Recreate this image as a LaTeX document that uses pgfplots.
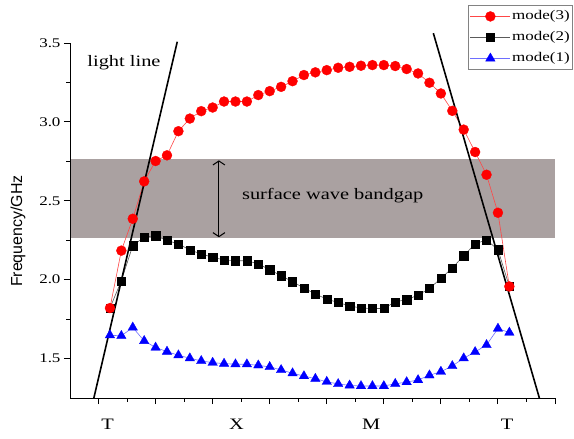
\documentclass[border=0pt]{standalone}
\usepackage{pgfplots}
\pgfplotsset{compat=1.18}
\usepackage{pgfplotstable}
\usepackage{fontspec}
\setmainfont{Liberation Serif}[FakeStretch=1.28]
\setsansfont{Liberation Sans}
\usetikzlibrary{arrows.meta}
\definecolor{bandgray}{RGB}{170,161,161}

\pgfplotstableread{
x m1 m2 m3
1 1.648 1.820 1.820
2 1.644 1.993 2.184
3 1.697 2.216 2.386
4 1.612 2.269 2.623
5 1.570 2.279 2.752
6 1.544 2.248 2.788
7 1.521 2.227 2.941
8 1.502 2.188 3.021
9 1.485 2.163 3.068
10 1.474 2.142 3.091
11 1.468 2.125 3.129
12 1.464 2.120 3.129
13 1.464 2.120 3.129
14 1.457 2.100 3.170
15 1.447 2.063 3.195
16 1.428 2.025 3.222
17 1.407 1.987 3.258
18 1.389 1.947 3.297
19 1.372 1.909 3.314
20 1.353 1.877 3.328
21 1.339 1.855 3.343
22 1.330 1.834 3.349
23 1.326 1.820 3.356
24 1.326 1.817 3.360
25 1.326 1.817 3.360
26 1.340 1.860 3.354
27 1.351 1.873 3.335
28 1.364 1.902 3.307
29 1.394 1.944 3.248
30 1.417 2.008 3.180
31 1.453 2.074 3.070
32 1.502 2.152 2.951
33 1.542 2.227 2.809
34 1.586 2.252 2.665
35 1.690 2.190 2.424
36 1.665 1.957 1.957
}\modes

\begin{document}
\begin{tikzpicture}
\useasboundingbox (-70bp,-41bp) rectangle (504bp,398bp);
\begin{axis}[
  at={(0,0)}, anchor=south west,
  scale only axis, width=485bp, height=355bp,
  xmin=-2.5, xmax=40, ymin=1.25, ymax=3.5,
  axis x line*=bottom, axis y line*=left,
  axis on top,
  xtick={0,5,...,40}, xticklabels={},
  minor x tick num=1,
  ytick={1.5,2.0,2.5,3.0,3.5}, minor y tick num=1,
  yticklabel style={/pgf/number format/fixed, /pgf/number format/fixed zerofill, /pgf/number format/precision=1},
  /pgf/number format/assume math mode=true,
  tick align=outside,
  major tick length=6bp, minor tick length=3.5bp,
  tick style={black, line width=0.9bp},
  axis line style={black, line width=1bp},
  ticklabel style={font=\fontsize{13.3}{15}\selectfont},
  extra x ticks={0.8,12.1,23.9,35.8},
  extra x tick labels={T,X,M,T},
  extra x tick style={major tick length=0pt, tick label style={font=\fontsize{16}{18}\selectfont, yshift=-18bp}},
  ylabel={Frequency/GHz},
  ylabel style={font=\sffamily\fontsize{16}{18}\selectfont, at={(axis description cs:-0.107,0.47)}, anchor=center},
  clip=false,
  reverse legend,
  legend cell align=left,
  legend image code/.code={\draw[mark repeat=2,mark phase=2] plot coordinates {(0bp,0bp) (20bp,0bp) (40bp,0bp)};},
  legend style={at={(axis description cs:0.821,1.107)}, anchor=north west,
    draw={rgb,255:red,130;green,130;blue,130}, line width=0.8bp,
    font=\fontsize{13.3}{15}\selectfont,
    inner xsep=1.5bp, inner ysep=0.5bp,
    nodes={inner sep=1.5bp, text height=12bp, text depth=6bp}},
]
\addplot[fill=bandgray, draw=none, forget plot] coordinates {(-2.5,2.262) (40,2.262) (40,2.767) (-2.5,2.767)};

\addplot[color={rgb,255:red,110;green,110;blue,255}, line width=0.6bp, mark=triangle*, mark size=5.5bp, mark options={fill=blue, draw=blue, line width=0.3bp}] table[x=x, y=m1] {\modes};
\addlegendentry{mode(1)}
\addplot[color={rgb,255:red,90;green,90;blue,90}, line width=0.6bp, mark=square*, mark size=4.1bp, mark options={fill=black, draw=black, line width=0.3bp}] table[x=x, y=m2] {\modes};
\addlegendentry{mode(2)}
\addplot[color={rgb,255:red,255;green,70;blue,70}, line width=0.6bp, mark=*, mark size=5bp, mark options={fill=red, draw=red, line width=0.3bp}] table[x=x, y=m3] {\modes};
\addlegendentry{mode(3)}

\addplot[black, line width=1.6bp, forget plot] coordinates {(-0.41,1.25) (6.90,3.508)};
\addplot[black, line width=1.6bp, forget plot] coordinates {(29.34,3.562) (38.63,1.25)};

\draw[{Straight Barb[length=4bp,width=12bp]}-{Straight Barb[length=4bp,width=12bp]}, line width=1bp] (axis cs:10.55,2.756) -- (axis cs:10.55,2.269);
\node[font=\fontsize{16}{18}\selectfont] at (axis cs:2.23,3.373) {light line};
\node[font=\fontsize{16}{18}\selectfont] at (axis cs:20.52,2.534) {surface wave bandgap};
\end{axis}
\end{tikzpicture}
\end{document}
